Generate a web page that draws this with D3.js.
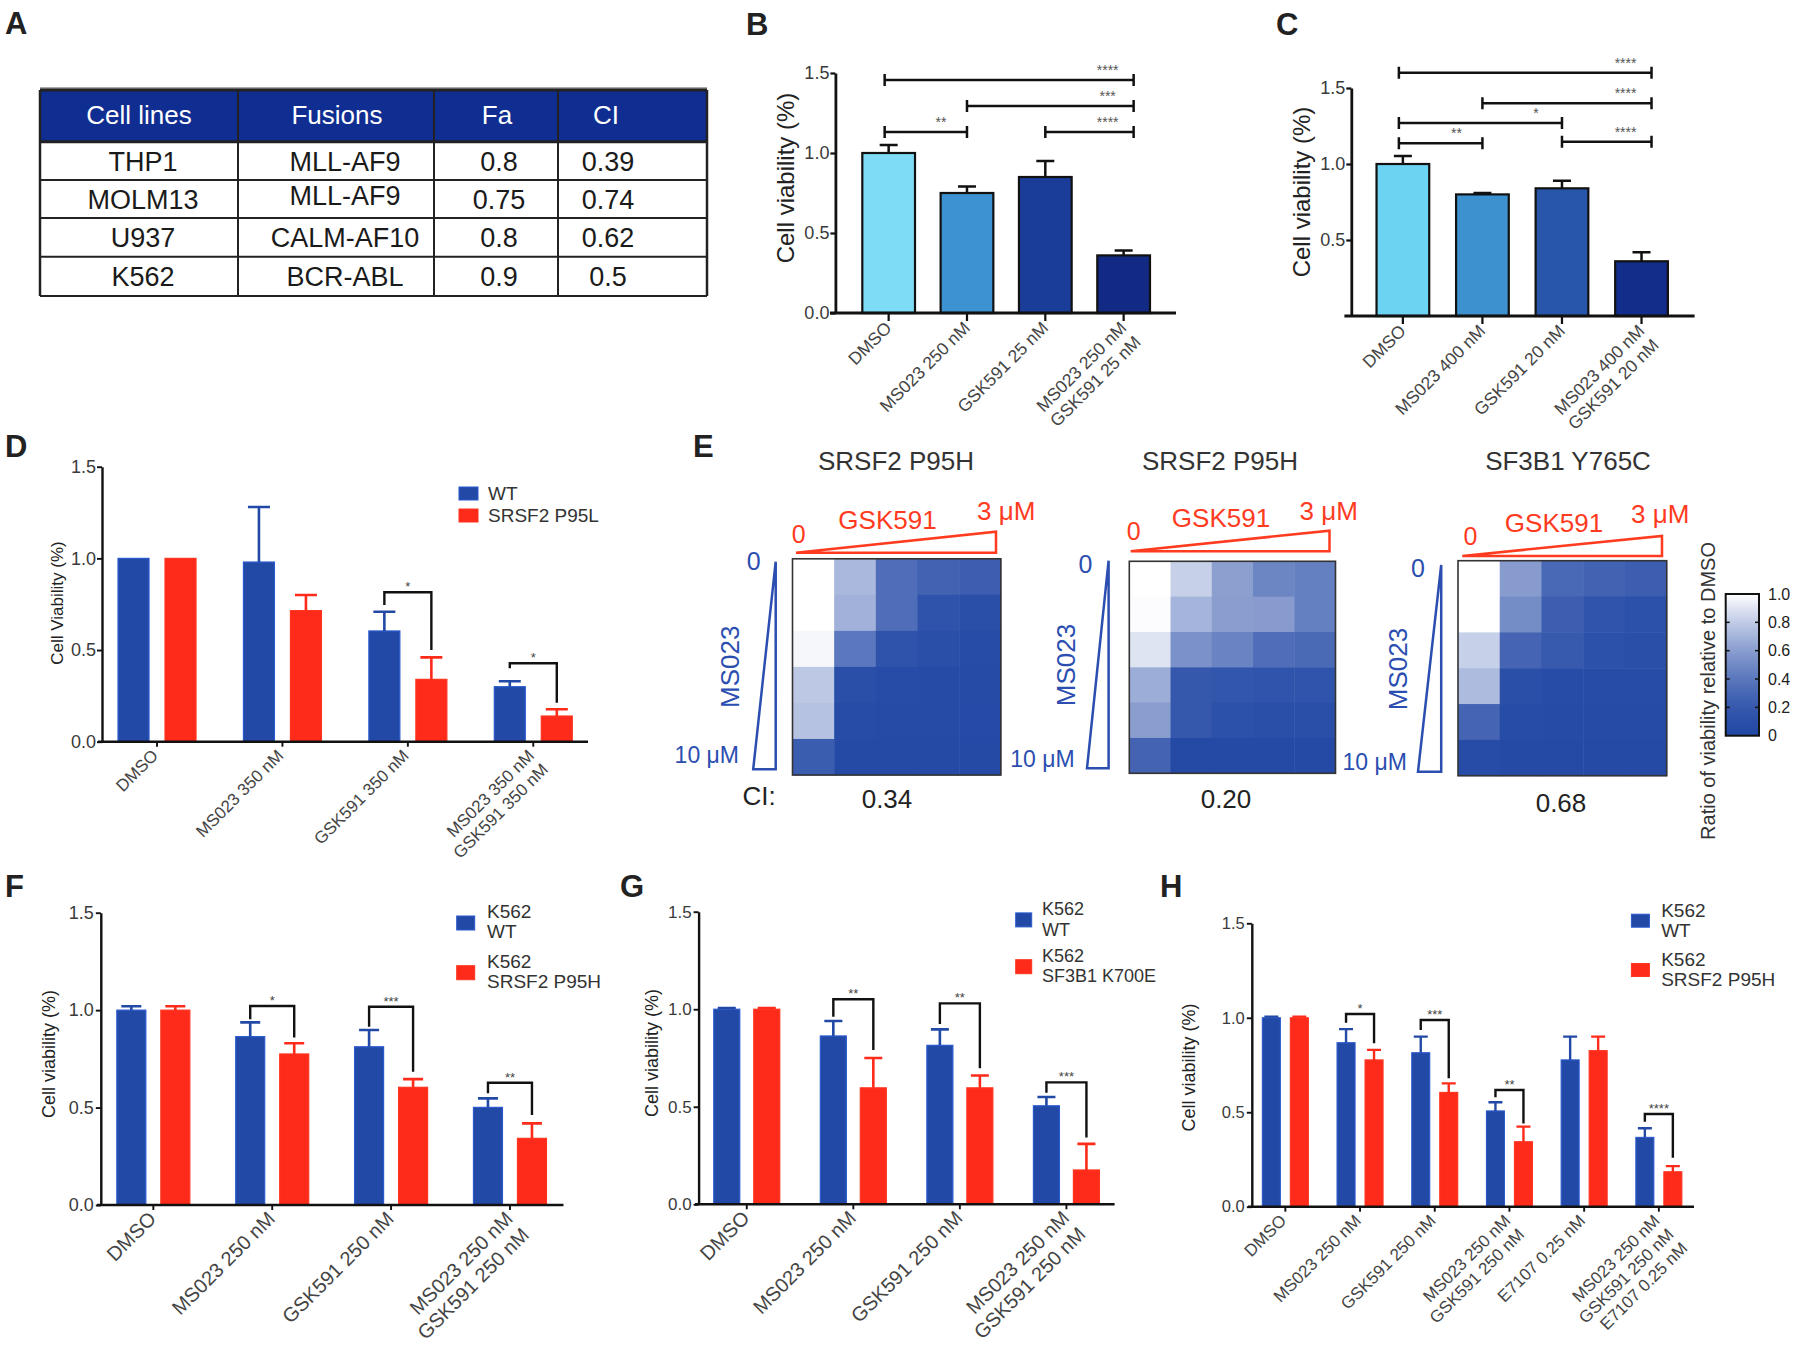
<!DOCTYPE html>
<html><head><meta charset="utf-8">
<script src="https://cdn.jsdelivr.net/npm/d3@7"></script>
<style>
body{margin:0;background:#fff;}
svg{display:block;font-family:"Liberation Sans",Arial,Helvetica,sans-serif;}
</style></head><body>
<svg id="fig" width="1800" height="1359"></svg>
<script>
// ================= DATA =================
// Panel A table
const tableHeaders = ["Cell lines", "Fusions", "Fa", "CI"];
const cellLines = ["THP1", "MOLM13", "U937", "K562"];
const fusions = ["MLL-AF9", "MLL-AF9", "CALM-AF10", "BCR-ABL"];
const faValues = ["0.8", "0.75", "0.8", "0.9"];
const ciValues = ["0.39", "0.74", "0.62", "0.5"];

const yTickValues = [0, 0.5, 1.0, 1.5];

// Panel B
const catsB = ["DMSO", "MS023 250 nM", "GSK591 25 nM", "MS023 250 nM\nGSK591 25 nM"];
const valsB = [1.0, 0.75, 0.85, 0.36];
const errsB = [1.05, 0.79, 0.95, 0.39];
const sigB = [
  {from: 0, to: 3, y: 1.456, label: "****"},
  {from: 1, to: 3, y: 1.294, label: "***"},
  {from: 0, to: 1, y: 1.131, label: "**"},
  {from: 2, to: 3, y: 1.131, label: "****"}
];

// Panel C
const catsC = ["DMSO", "MS023 400 nM", "GSK591 20 nM", "MS023 400 nM\nGSK591 20 nM"];
const valsC = [1.0, 0.80, 0.84, 0.36];
const errsC = [1.053, 0.81, 0.89, 0.42];
const sigC = [
  {from: 0, to: 3, y: 1.60, label: "****"},
  {from: 1, to: 3, y: 1.40, label: "****"},
  {from: 0, to: 2, y: 1.27, label: "*"},
  {from: 0, to: 1, y: 1.136, label: "**"},
  {from: 2, to: 3, y: 1.147, label: "****"}
];

// Panel D
const catsD = ["DMSO", "MS023 350 nM", "GSK591 350 nM", "MS023 350 nM\nGSK591 350 nM"];
const seriesNamesD = ["WT", "SRSF2 P95L"];
const wtD = [1.0, 0.98, 0.604, 0.30];
const wtErrD = [1.0, 1.28, 0.709, 0.33];
const mutD = [1.0, 0.715, 0.34, 0.14];
const mutErrD = [1.0, 0.80, 0.46, 0.177];
const sigD = [
  {group: 2, top: 0.815, left: 0.746, right: 0.50, label: "*"},
  {group: 3, top: 0.428, left: 0.40, right: 0.213, label: "*"}
];

// Panel E heatmaps (rows: MS023 0 -> 10 uM, cols: GSK591 0 -> 3 uM)
const heatTitles = ["SRSF2 P95H", "SRSF2 P95H", "SF3B1 Y765C"];
const heatCI = ["0.34", "0.20", "0.68"];
const heat1 = [
  [1.00, 0.72, 0.34, 0.27, 0.24],
  [1.00, 0.69, 0.34, 0.14, 0.10],
  [0.97, 0.40, 0.14, 0.10, 0.07],
  [0.79, 0.10, 0.07, 0.05, 0.05],
  [0.76, 0.07, 0.05, 0.05, 0.04],
  [0.23, 0.03, 0.02, 0.02, 0.02]
];
const heat2 = [
  [1.00, 0.82, 0.61, 0.48, 0.45],
  [0.99, 0.70, 0.60, 0.59, 0.45],
  [0.90, 0.54, 0.47, 0.34, 0.32],
  [0.67, 0.19, 0.17, 0.15, 0.15],
  [0.60, 0.19, 0.12, 0.10, 0.10],
  [0.28, 0.02, 0.02, 0.02, 0.02]
];
const heat3 = [
  [1.00, 0.59, 0.31, 0.27, 0.24],
  [1.00, 0.52, 0.24, 0.15, 0.12],
  [0.82, 0.29, 0.20, 0.12, 0.10],
  [0.73, 0.10, 0.07, 0.07, 0.07],
  [0.29, 0.07, 0.05, 0.05, 0.05],
  [0.07, 0.03, 0.02, 0.02, 0.02]
];
const colorbarTicks = [1.0, 0.8, 0.6, 0.4, 0.2, 0];
const colorbarTickLabels = ["1.0", "0.8", "0.6", "0.4", "0.2", "0"];

// Panel F
const catsF = ["DMSO", "MS023 250 nM", "GSK591 250 nM", "MS023 250 nM\nGSK591 250 nM"];
const seriesNamesF = ["K562\nWT", "K562\nSRSF2 P95H"];
const wtF = [1.0, 0.864, 0.812, 0.501];
const wtErrF = [1.02, 0.937, 0.898, 0.547];
const mutF = [1.0, 0.775, 0.604, 0.342];
const mutErrF = [1.02, 0.83, 0.646, 0.419];
const sigF = [
  {group: 1, top: 1.021, left: 0.953, right: 0.860, label: "*"},
  {group: 2, top: 1.017, left: 0.915, right: 0.684, label: "***"},
  {group: 3, top: 0.627, left: 0.573, right: 0.462, label: "**"}
];

// Panel G
const catsG = ["DMSO", "MS023 250 nM", "GSK591 250 nM", "MS023 250 nM\nGSK591 250 nM"];
const seriesNamesG = ["K562\nWT", "K562\nSF3B1 K700E"];
const wtG = [1.0, 0.863, 0.815, 0.505];
const wtErrG = [1.006, 0.94, 0.897, 0.55];
const mutG = [1.0, 0.597, 0.597, 0.176];
const mutErrG = [1.006, 0.75, 0.66, 0.31];
const sigG = [
  {group: 1, top: 1.051, left: 0.962, right: 0.791, label: "**"},
  {group: 2, top: 1.030, left: 0.924, right: 0.697, label: "**"},
  {group: 3, top: 0.625, left: 0.572, right: 0.343, label: "***"}
];

// Panel H
const catsH = ["DMSO", "MS023 250 nM", "GSK591 250 nM", "MS023 250 nM\nGSK591 250 nM", "E7107 0.25 nM", "MS023 250 nM\nGSK591 250 nM\nE7107 0.25 nM"];
const seriesNamesH = ["K562\nWT", "K562\nSRSF2 P95H"];
const wtH = [1.0, 0.868, 0.815, 0.507, 0.777, 0.367];
const wtErrH = [1.006, 0.94, 0.90, 0.553, 0.90, 0.415];
const mutH = [1.0, 0.777, 0.605, 0.344, 0.826, 0.185];
const mutErrH = [1.006, 0.83, 0.653, 0.424, 0.90, 0.215];
const sigH = [
  {group: 1, top: 1.02, left: 0.974, right: 0.865, label: "*"},
  {group: 2, top: 0.988, left: 0.935, right: 0.68, label: "***"},
  {group: 3, top: 0.618, left: 0.579, right: 0.441, label: "**"},
  {group: 5, top: 0.491, left: 0.45, right: 0.259, label: "****"}
];

// ================= STYLE / LAYOUT =================
const FONT = "'Liberation Sans', Arial, Helvetica, sans-serif";
const BLUE = "#2249a6", RED = "#ff2b1a";
const colorsB = ["#7fdcf6", "#3d93d1", "#1a3d9a", "#122a83"];
const colorsC = ["#6dd3f3", "#3d91cf", "#2756ab", "#132d8a"];
const svg = d3.select("#fig");

// panel letters
[["A", 5, 34], ["B", 746, 35], ["C", 1276, 35], ["D", 5, 457], ["E", 693, 457],
 ["F", 5, 897], ["G", 620, 897], ["H", 1160, 897]].forEach(([t, x, y]) => {
  svg.append("text").attr("x", x).attr("y", y).attr("font-size", 31).attr("font-weight", "bold")
    .attr("fill", "#222").attr("font-family", FONT).text(t);
});

// ================= PANEL A: table =================
(function () {
  const colEdges = [40, 238, 434, 558, 707];
  const rowEdges = [90, 141.7, 180, 218, 256.7, 296];
  const headerCx = [139, 337, 497, 606];
  const bodyCx = [143, 345, 499, 608];
  const g = svg.append("g").attr("font-family", FONT);
  g.append("line").attr("x1", colEdges[0]).attr("x2", colEdges[4]).attr("y1", rowEdges[0] - 2).attr("y2", rowEdges[0] - 2)
    .attr("stroke", "#aaa").attr("stroke-width", 2);
  g.append("rect").attr("x", colEdges[0]).attr("y", rowEdges[0]).attr("width", colEdges[4] - colEdges[0])
    .attr("height", rowEdges[1] - rowEdges[0]).attr("fill", "#102d91");
  g.selectAll(".ht").data(tableHeaders).join("text")
    .attr("x", (d, i) => headerCx[i]).attr("y", 124).attr("text-anchor", "middle")
    .attr("font-size", 26).attr("fill", "#fff").text(d => d);
  const rows = cellLines.map((c, i) => [c, fusions[i], faValues[i], ciValues[i]]);
  rows.forEach((r, ri) => {
    const cy = (rowEdges[ri + 1] + rowEdges[ri + 2]) / 2;
    r.forEach((t, ci) => {
      const adj = (ci === 1 && ri === 1) ? -4 : 0;
      g.append("text").attr("x", bodyCx[ci]).attr("y", cy + 10 + adj).attr("text-anchor", "middle")
        .attr("font-size", 27).attr("fill", "#1a1a1a").text(t);
    });
  });
  rowEdges.forEach((y, i) => g.append("line").attr("x1", colEdges[0]).attr("x2", colEdges[4])
    .attr("y1", y).attr("y2", y).attr("stroke", "#222").attr("stroke-width", i < 2 ? 3 : 2));
  colEdges.forEach((x, i) => g.append("line").attr("x1", x).attr("x2", x)
    .attr("y1", rowEdges[0]).attr("y2", rowEdges[5]).attr("stroke", "#222").attr("stroke-width", (i === 0 || i === 4) ? 2.5 : 2));
})();

// ================= Bar chart helper =================
function barChart(cfg) {
  const g = svg.append("g").attr("font-family", FONT);
  const y = d3.scaleLinear().domain([0, 1.5]).range([cfg.y0, cfg.y15]);
  const x = d3.scaleBand().domain(cfg.cats).range(cfg.band).padding(0);
  const keys = cfg.series.map(s => s.key);
  const xs = d3.scalePoint().domain(keys).range([-cfg.off, cfg.off]);
  const cx = (cat, key) => x(cat) + x.bandwidth() / 2 + (keys.length > 1 ? xs(key) : 0);

  cfg.series.forEach(s => {
    const data = cfg.cats.map((c, i) => ({cat: c, v: s.values[i], e: s.errs[i],
      color: s.colors ? s.colors[i] : s.color}));
    g.selectAll(null).data(data).join("rect")
      .attr("x", d => cx(d.cat, s.key) - cfg.barW / 2)
      .attr("y", d => y(d.v))
      .attr("width", cfg.barW)
      .attr("height", d => y(0) - y(d.v))
      .attr("fill", d => d.color)
      .attr("stroke", d => cfg.outline || d3.color(d.color).brighter(0.6).formatHex())
      .attr("stroke-width", cfg.outlineW);
    g.selectAll(null).data(data.filter(d => d.e > d.v + 0.003)).join("path")
      .attr("d", d => {
        const xx = cx(d.cat, s.key);
        return `M${xx},${y(d.v)}V${y(d.e)}M${xx - cfg.capW / 2},${y(d.e)}H${xx + cfg.capW / 2}`;
      })
      .attr("fill", "none")
      .attr("stroke", d => cfg.errColor || d.color)
      .attr("stroke-width", cfg.errW);
  });

  // y axis
  const ya = d3.axisLeft(y).tickValues(cfg.yTicks).tickFormat(d3.format(".1f"))
    .tickSize(5).tickSizeOuter(0).tickPadding(cfg.tickPad);
  const yg = g.append("g").attr("transform", `translate(${cfg.axisX},0)`).call(ya)
    .attr("font-family", FONT).attr("font-size", cfg.tickFont);
  yg.select(".domain").attr("stroke", "#111").attr("stroke-width", cfg.axisW);
  yg.selectAll(".tick line").attr("stroke", "#111").attr("stroke-width", cfg.axisW * 0.8);
  yg.selectAll(".tick text").attr("fill", "#3a3a3a");

  // x axis
  g.append("line").attr("x1", cfg.axisLine[0]).attr("x2", cfg.axisLine[1])
    .attr("y1", y(0)).attr("y2", y(0)).attr("stroke", "#111").attr("stroke-width", cfg.axisW);
  const xg = g.append("g").attr("transform", `translate(0,${y(0)})`)
    .call(d3.axisBottom(x).tickSize(cfg.xTickLen).tickFormat(""));
  xg.select(".domain").remove();
  xg.selectAll(".tick line").attr("stroke", "#111").attr("stroke-width", cfg.axisW * 0.8);
  cfg.cats.forEach(c => {
    const t = g.append("text")
      .attr("transform", `translate(${x(c) + x.bandwidth() / 2 + cfg.xdx},${y(0) + cfg.xdy}) rotate(-45)`)
      .attr("text-anchor", "end").attr("font-size", cfg.xFont).attr("fill", "#444");
    c.split("\n").forEach((line, i) => t.append("tspan").attr("x", 0).attr("dy", i === 0 ? 0 : "1.15em").text(line));
  });

  // y label
  g.append("text").attr("transform", `translate(${cfg.ylab.x},${cfg.ylab.y}) rotate(-90)`)
    .attr("text-anchor", "middle").attr("dominant-baseline", "central")
    .attr("font-size", cfg.ylab.size).attr("fill", "#222").text(cfg.ylab.text);

  // significance
  if (cfg.spanSig) {
    const last = cfg.cats.length - 1;
    cfg.spanSig.forEach(s => {
      const x1 = cx(cfg.cats[s.from], keys[0]) - (s.from === 0 ? 4 : 0);
      const x2 = cx(cfg.cats[s.to], keys[0]) + (s.to === last ? 10 : 0);
      const yy = y(s.y);
      g.append("path").attr("d", `M${x1},${yy}H${x2}M${x1},${yy - 6}V${yy + 6}M${x2},${yy - 6}V${yy + 6}`)
        .attr("stroke", "#111").attr("stroke-width", 2.5).attr("fill", "none");
      g.append("text").attr("x", x2 - 26).attr("y", yy - 5).attr("text-anchor", "middle")
        .attr("font-size", 14).attr("fill", "#555").text(s.label);
    });
  }
  if (cfg.bracketSig) {
    cfg.bracketSig.forEach(s => {
      const cat = cfg.cats[s.group];
      const x1 = cx(cat, keys[0]), x2 = cx(cat, keys[1]);
      g.append("path").attr("d", `M${x1},${y(s.left)}V${y(s.top)}H${x2}V${y(s.right)}`)
        .attr("stroke", "#111").attr("stroke-width", 2.4).attr("fill", "none");
      g.append("text").attr("x", (x1 + x2) / 2).attr("y", y(s.top) - 1).attr("text-anchor", "middle")
        .attr("font-size", 13).attr("fill", "#444").text(s.label);
    });
  }

  // legend
  if (cfg.legend) {
    const L = cfg.legend;
    cfg.series.forEach((s, i) => {
      const cy = L.cys[i];
      g.append("rect").attr("x", L.x).attr("y", cy - L.h / 2).attr("width", L.w).attr("height", L.h)
        .attr("fill", s.color).attr("stroke", d3.color(s.color).brighter(0.6).formatHex()).attr("stroke-width", 1);
      const lines = s.name.split("\n");
      lines.forEach((ln, j) => {
        const base = lines.length === 1 ? cy + L.font * 0.36 : cy - L.up + j * L.lh;
        g.append("text").attr("x", L.tx).attr("y", base).attr("font-size", L.font).attr("fill", "#333").text(ln);
      });
    });
  }
}

// ================= PANEL B =================
barChart({
  cats: catsB, series: [{key: "v", values: valsB, errs: errsB, colors: colorsB}],
  y0: 313, y15: 73, axisX: 835.4, band: [849.5, 1162.8], axisLine: [830, 1176], barW: 52.7, off: 0,
  capW: 18, errW: 2.5, errColor: "#111", outline: "#111", outlineW: 2.2,
  yTicks: yTickValues, tickFont: 18, tickPad: 1, axisW: 2.8, xTickLen: 8,
  xFont: 17.5, xdx: 4, xdy: 16,
  ylab: {text: "Cell viability (%)", x: 785.4, y: 178, size: 24},
  spanSig: sigB
});

// ================= PANEL C =================
barChart({
  cats: catsC, series: [{key: "v", values: valsC, errs: errsC, colors: colorsC}],
  y0: 316, y15: 88, axisX: 1351.3, band: [1363.1, 1681.3], axisLine: [1344.4, 1694.6], barW: 52.7, off: 0,
  capW: 18, errW: 2.5, errColor: "#111", outline: "#111", outlineW: 2.2,
  yTicks: [0.5, 1.0, 1.5], tickFont: 18, tickPad: 1, axisW: 2.8, xTickLen: 8,
  xFont: 17.5, xdx: 4, xdy: 16,
  ylab: {text: "Cell viability (%)", x: 1301.3, y: 192, size: 24},
  spanSig: sigC
});

// ================= PANEL D =================
barChart({
  cats: catsD,
  series: [{key: "wt", name: seriesNamesD[0], values: wtD, errs: wtErrD, color: BLUE},
           {key: "mut", name: seriesNamesD[1], values: mutD, errs: mutErrD, color: RED}],
  y0: 741.7, y15: 466.7, axisX: 102, band: [94.3, 596], axisLine: [98, 588], barW: 31, off: 23.5,
  capW: 22, errW: 2.6, outlineW: 1.2,
  yTicks: yTickValues, tickFont: 18, tickPad: 1, axisW: 2.4, xTickLen: 5,
  xFont: 17, xdx: 2, xdy: 15,
  ylab: {text: "Cell Viability (%)", x: 57, y: 603, size: 17},
  bracketSig: sigD,
  legend: {x: 459, w: 19, h: 13, cys: [493.5, 515.5], tx: 488, font: 19, up: 5, lh: 20}
});

// ================= PANEL F =================
barChart({
  cats: catsF,
  series: [{key: "wt", name: seriesNamesF[0], values: wtF, errs: wtErrF, color: BLUE},
           {key: "mut", name: seriesNamesF[1], values: mutF, errs: mutErrF, color: RED}],
  y0: 1205, y15: 912.7, axisX: 100.8, band: [93.9, 569.4], axisLine: [97, 563.5], barW: 29, off: 22,
  capW: 20, errW: 2.6, outlineW: 1.2,
  yTicks: yTickValues, tickFont: 18, tickPad: 2, axisW: 2.4, xTickLen: 5,
  xFont: 20, xdx: 4, xdy: 15,
  ylab: {text: "Cell viability (%)", x: 49.4, y: 1054, size: 18},
  bracketSig: sigF,
  legend: {x: 456.7, w: 18, h: 14, cys: [923, 972.7], tx: 487, font: 19, up: 4.7, lh: 20}
});

// ================= PANEL G =================
barChart({
  cats: catsG,
  series: [{key: "wt", name: seriesNamesG[0], values: wtG, errs: wtErrG, color: BLUE},
           {key: "mut", name: seriesNamesG[1], values: mutG, errs: mutErrG, color: RED}],
  y0: 1204.3, y15: 911.7, axisX: 698.6, band: [693.5, 1119.7], axisLine: [695, 1114.6], barW: 26, off: 20,
  capW: 18, errW: 2.6, outlineW: 1.2,
  yTicks: yTickValues, tickFont: 17, tickPad: 2, axisW: 2.4, xTickLen: 5,
  xFont: 20, xdx: 4, xdy: 15,
  ylab: {text: "Cell viability (%)", x: 652, y: 1053, size: 18},
  bracketSig: sigG,
  legend: {x: 1015.7, w: 16, h: 14, cys: [919.9, 966.7], tx: 1042, font: 18, up: 4.9, lh: 20.5}
});

// ================= PANEL H =================
barChart({
  cats: catsH,
  series: [{key: "wt", name: seriesNamesH[0], values: wtH, errs: wtErrH, color: BLUE},
           {key: "mut", name: seriesNamesH[1], values: mutH, errs: mutErrH, color: RED}],
  y0: 1206.7, y15: 923.3, axisX: 1251.8, band: [1248, 1696.2], axisLine: [1248, 1694], barW: 18, off: 14,
  capW: 14, errW: 2.4, outlineW: 1.1,
  yTicks: yTickValues, tickFont: 16.5, tickPad: 2, axisW: 2.4, xTickLen: 5,
  xFont: 17, xdx: 2, xdy: 15,
  ylab: {text: "Cell viability (%)", x: 1188.6, y: 1067.5, size: 18},
  bracketSig: sigH,
  legend: {x: 1631.4, w: 18, h: 13, cys: [920.7, 970], tx: 1661.2, font: 19, up: 4, lh: 20}
});

// ================= PANEL E: heatmaps =================
const heatColor = v => d3.interpolateRgb("#2349a6", "#ffffff")(Math.pow(Math.max(0, Math.min(1, v)), 1.5));
const REDT = "#ff3b1f", BLUET = "#2b4eb0";
const heatLayouts = [
  {titleX: 896, box: [792.5, 558.8, 1000.8, 775],
   red: {left: 796, right: 996, yb: 552.7, yt: 531.7, zeroX: 798.8, zeroY: 543, gskX: 887.5, gskY: 529.3, umX: 977, umY: 520},
   blue: {xl: 753.2, xr: 775.7, yt: 561.7, yb: 769.3, zeroX: 753.6, zeroY: 570, msX: 730, msY: 666.7, tenX: 739, tenY: 763.3},
   ciX: 887, ciY: 808},
  {titleX: 1220, box: [1129.3, 561.3, 1335.5, 773.3],
   red: {left: 1130.7, right: 1329.5, yb: 551.2, yt: 530.7, zeroX: 1133.6, zeroY: 540, gskX: 1221, gskY: 527, umX: 1299.5, umY: 520},
   blue: {xl: 1087, xr: 1108.6, yt: 560.7, yb: 768.3, zeroX: 1085.4, zeroY: 573, msX: 1065.7, msY: 665, tenX: 1074.6, tenY: 766.7},
   ciX: 1226, ciY: 808},
  {titleX: 1568, box: [1458, 560.7, 1666.7, 775.7],
   red: {left: 1462.3, right: 1662, yb: 556, yt: 536, zeroX: 1470.5, zeroY: 545, gskX: 1554, gskY: 531.7, umX: 1631, umY: 523.3},
   blue: {xl: 1418, xr: 1441.2, yt: 565, yb: 771.7, zeroX: 1418, zeroY: 576.7, msX: 1397.6, msY: 669, tenX: 1406.8, tenY: 770},
   ciX: 1561, ciY: 811.7}
];
[heat1, heat2, heat3].forEach((mat, k) => {
  const L = heatLayouts[k];
  const g = svg.append("g").attr("font-family", FONT);
  const xc = d3.scaleBand().domain(d3.range(5)).range([L.box[0], L.box[2]]);
  const yr = d3.scaleBand().domain(d3.range(6)).range([L.box[1], L.box[3]]);
  const cells = mat.flatMap((row, r) => row.map((v, c) => ({r, c, v})));
  g.selectAll(null).data(cells).join("rect")
    .attr("x", d => xc(d.c)).attr("y", d => yr(d.r))
    .attr("width", xc.bandwidth() + 0.5).attr("height", yr.bandwidth() + 0.5)
    .attr("fill", d => heatColor(d.v));
  g.append("rect").attr("x", L.box[0]).attr("y", L.box[1]).attr("width", L.box[2] - L.box[0])
    .attr("height", L.box[3] - L.box[1]).attr("fill", "none").attr("stroke", "#333").attr("stroke-width", 1.6);
  g.append("text").attr("x", L.titleX).attr("y", 470).attr("text-anchor", "middle")
    .attr("font-size", 26).attr("fill", "#333").text(heatTitles[k]);
  const R = L.red;
  g.append("path").attr("d", `M${R.left},${R.yb}H${R.right}V${R.yt}Z`).attr("fill", "none")
    .attr("stroke", REDT).attr("stroke-width", 2.5).attr("stroke-linejoin", "miter");
  g.append("text").attr("x", R.zeroX).attr("y", R.zeroY).attr("text-anchor", "middle").attr("font-size", 25).attr("fill", REDT).text("0");
  g.append("text").attr("x", R.gskX).attr("y", R.gskY).attr("text-anchor", "middle").attr("font-size", 26).attr("fill", REDT).text("GSK591");
  g.append("text").attr("x", R.umX).attr("y", R.umY).attr("font-size", 26).attr("fill", REDT).text("3 μM");
  const B = L.blue;
  g.append("path").attr("d", `M${B.xr},${B.yt}V${B.yb}H${B.xl}Z`).attr("fill", "none")
    .attr("stroke", BLUET).attr("stroke-width", 2.5);
  g.append("text").attr("x", B.zeroX).attr("y", B.zeroY).attr("text-anchor", "middle").attr("font-size", 25).attr("fill", BLUET).text("0");
  g.append("text").attr("transform", `translate(${B.msX},${B.msY}) rotate(-90)`).attr("text-anchor", "middle")
    .attr("dominant-baseline", "central").attr("font-size", 26).attr("fill", BLUET).text("MS023");
  g.append("text").attr("x", B.tenX).attr("y", B.tenY).attr("text-anchor", "end").attr("font-size", 23).attr("fill", BLUET).text("10 μM");
  g.append("text").attr("x", L.ciX).attr("y", L.ciY).attr("text-anchor", "middle").attr("font-size", 26).attr("fill", "#222").text(heatCI[k]);
});
svg.append("text").attr("x", 742.5).attr("y", 805).attr("font-size", 26).attr("fill", "#222").attr("font-family", FONT).text("CI:");

// colorbar
(function () {
  const g = svg.append("g").attr("font-family", FONT);
  const cbY = d3.scaleLinear().domain([0, 1]).range([735.7, 594]);
  const x0 = 1725.7, x1 = 1759;
  const grad = svg.append("defs").append("linearGradient").attr("id", "cbgrad")
    .attr("x1", 0).attr("y1", 1).attr("x2", 0).attr("y2", 0);
  d3.range(0, 1.0001, 0.05).forEach(t => grad.append("stop").attr("offset", t).attr("stop-color", heatColor(t)));
  g.append("rect").attr("x", x0).attr("y", cbY(1)).attr("width", x1 - x0).attr("height", cbY(0) - cbY(1))
    .attr("fill", "url(#cbgrad)").attr("stroke", "#111").attr("stroke-width", 2);
  colorbarTicks.forEach((t, i) => {
    if (t > 0 && t < 1) {
      g.append("line").attr("x1", x0).attr("x2", x0 + 4).attr("y1", cbY(t)).attr("y2", cbY(t)).attr("stroke", "#111").attr("stroke-width", 1.5);
      g.append("line").attr("x1", x1 - 4).attr("x2", x1).attr("y1", cbY(t)).attr("y2", cbY(t)).attr("stroke", "#111").attr("stroke-width", 1.5);
    }
    g.append("text").attr("x", 1768).attr("y", cbY(t)).attr("dy", "0.35em").attr("font-size", 16)
      .attr("fill", "#222").text(colorbarTickLabels[i]);
  });
  g.append("text").attr("transform", "translate(1707.6,691) rotate(-90)").attr("text-anchor", "middle")
    .attr("dominant-baseline", "central").attr("font-size", 20).attr("fill", "#333")
    .text("Ratio of viability relative to DMSO");
})();
</script>
</body></html>
